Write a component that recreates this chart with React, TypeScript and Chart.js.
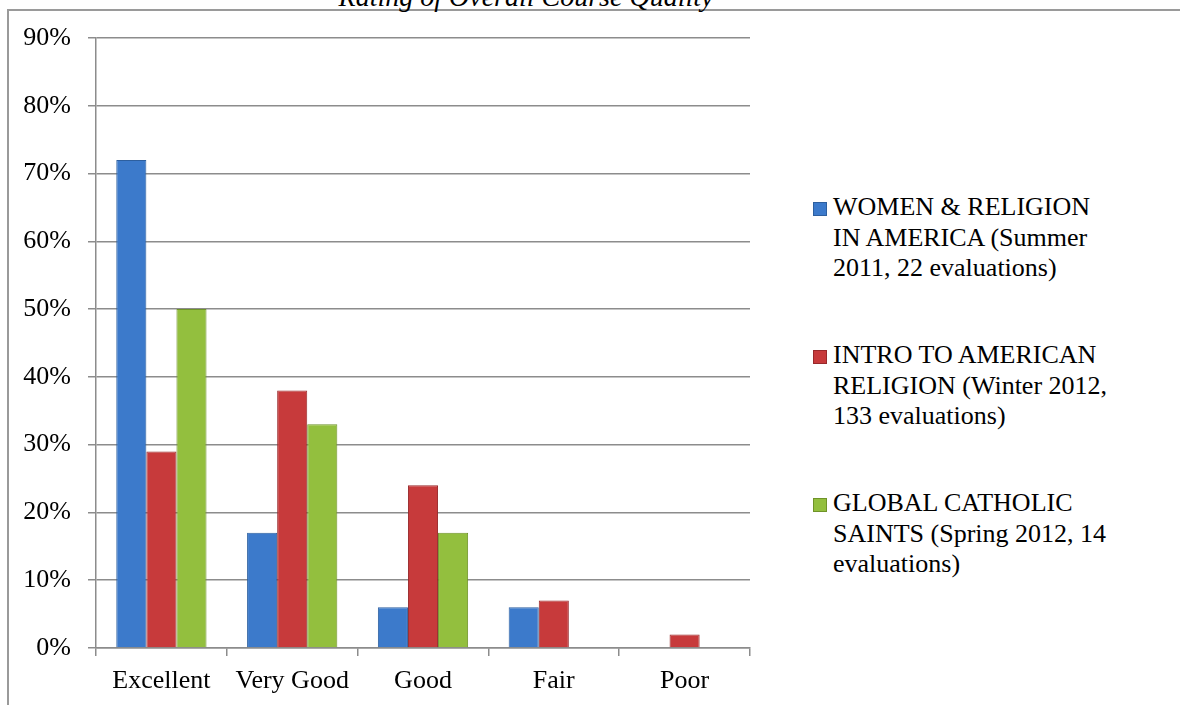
import React, { useEffect, useRef } from "react";
import Chart from "chart.js/auto";

const categories = ["Excellent", "Very Good", "Good", "Fair", "Poor"];
const womenReligion = [72, 17, 6, 6, 0];
const introAmerican = [29, 38, 24, 7, 2];
const catholicSaints = [50, 33, 17, 0, 0];
const seriesLabels = [
  ["WOMEN & RELIGION", "IN AMERICA (Summer", "2011, 22 evaluations)"],
  ["INTRO TO AMERICAN", "RELIGION (Winter 2012,", "133 evaluations)"],
  ["GLOBAL CATHOLIC", "SAINTS (Spring 2012, 14", "evaluations)"],
];
const seriesColors = ["#3c7acb", "#c73a3b", "#93bf3e"];
const seriesBorders = ["#2d5f9f", "#98292b", "#6f9329"];
const title = "Rating of Overall Course Quality";

const FONT = "'Liberation Serif', 'Times New Roman', serif";
const GRID = "#8c8c8c";

export default function App() {
  const ref = useRef<HTMLCanvasElement | null>(null);

  useEffect(() => {
    if (!ref.current) return;
    const all = [womenReligion, introAmerican, catholicSaints];
    const chart = new Chart(ref.current, {
      type: "bar",
      data: {
        labels: categories,
        datasets: all.map((d, i) => ({
          label: seriesLabels[i].join(" "),
          data: d.map((v) => (v === 0 ? null : v)),
          backgroundColor: seriesColors[i],
          borderColor: seriesBorders[i],
          borderWidth: 1,
          barPercentage: 1,
          categoryPercentage: 0.69,
        })),
      },
      options: {
        animation: false,
        responsive: false,
        maintainAspectRatio: false,
        layout: { padding: { top: 38, right: 10, left: 0, bottom: 0 } },
        plugins: {
          legend: { display: false },
          title: { display: false },
          tooltip: { enabled: false },
        },
        scales: {
          x: {
            grid: {
              drawOnChartArea: false,
              drawTicks: true,
              tickLength: 8,
              color: GRID,
              lineWidth: 1.5,
            },
            border: { color: GRID, width: 1.5 },
            ticks: {
              color: "#000",
              padding: 10,
              font: { family: FONT, size: 26 },
              maxRotation: 0,
              autoSkip: false,
            },
            afterFit: (s: any) => {
              s.height = 57;
            },
          },
          y: {
            min: 0,
            max: 90,
            grid: { color: GRID, lineWidth: 1.5, tickLength: 8 },
            border: { color: GRID, width: 1.5 },
            ticks: {
              stepSize: 10,
              color: "#000",
              padding: 17,
              font: { family: FONT, size: 26 },
              callback: (v: any) => v + "%",
            },
            afterFit: (s: any) => {
              s.width = 96;
            },
          },
        },
      },
    });
    return () => chart.destroy();
  }, []);

  const groupTops = [192, 340, 488];

  return (
    <div
      style={{
        position: "fixed",
        left: 0,
        top: 0,
        width: 1180,
        height: 705,
        overflow: "hidden",
        background: "#fff",
        fontFamily: FONT,
      }}
    >
      <div
        style={{
          position: "absolute",
          left: 7,
          top: 9,
          width: 1200,
          height: 720,
          border: "2px solid #9a9a9a",
          boxSizing: "border-box",
        }}
      />
      <div
        style={{
          position: "absolute",
          left: 226,
          width: 600,
          top: -17,
          textAlign: "center",
          fontStyle: "italic",
          fontSize: 28,
          lineHeight: "28px",
          whiteSpace: "nowrap",
        }}
      >
        {title}
      </div>
      <canvas
        ref={ref}
        width={760}
        height={705}
        style={{ position: "absolute", left: 0, top: 0, width: 760, height: 705 }}
      />
      {seriesLabels.map((lines, i) => (
        <div
          key={i}
          style={{ position: "absolute", left: 813, top: groupTops[i] }}
        >
          <div
            style={{
              position: "absolute",
              left: 0,
              top: 10,
              width: 14,
              height: 14,
              background: seriesColors[i],
              border: `1px solid ${seriesBorders[i]}`,
              boxSizing: "border-box",
            }}
          />
          <div
            style={{
              position: "absolute",
              left: 20,
              top: 0,
              fontSize: 26,
              lineHeight: "30.5px",
              whiteSpace: "nowrap",
              color: "#000",
            }}
          >
            {lines.map((l, j) => (
              <div key={j}>{l}</div>
            ))}
          </div>
        </div>
      ))}
    </div>
  );
}
